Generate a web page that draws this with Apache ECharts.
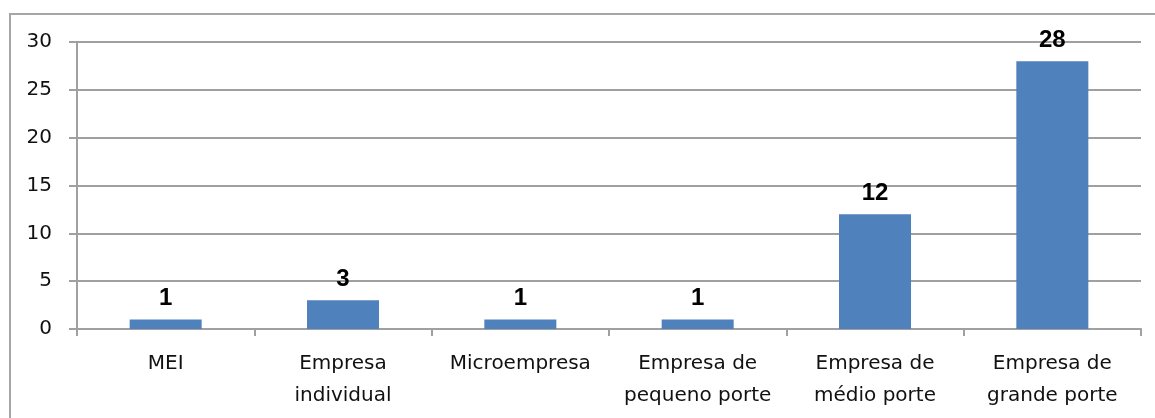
<!DOCTYPE html>
<html>
<head>
<meta charset="utf-8">
<script src="https://cdn.jsdelivr.net/npm/echarts@6/dist/echarts.min.js"></script>
<style>
  html, body { margin: 0; padding: 0; background: #fff; }
  #chart { width: 1155px; height: 418px; }
</style>
</head>
<body>
<div id="chart"></div>
<script>
// Companies by size
const categories = [
  'MEI',
  'Empresa\nindividual',
  'Microempresa',
  'Empresa de\npequeno porte',
  'Empresa de\nmédio porte',
  'Empresa de\ngrande porte'
];
const counts = [1, 3, 1, 1, 12, 28];
const yTicks = [0, 5, 10, 15, 20, 25, 30];

const chart = echarts.init(document.getElementById('chart'), null, { renderer: 'canvas' });

chart.setOption({
  animation: false,
  backgroundColor: '#ffffff',
  graphic: [{
    type: 'polyline',
    shape: { points: [[10, 420], [10, 14], [1160, 14]] },
    style: { stroke: '#a6a6a6', lineWidth: 2, fill: null },
    silent: true
  }],
  grid: { left: 77, right: 14, top: 42, bottom: 89, containLabel: false },
  xAxis: {
    type: 'category',
    data: categories,
    axisLine: { show: true, lineStyle: { color: '#a0a0a0', width: 2 } },
    axisTick: { show: true, alignWithLabel: false, length: 7, lineStyle: { color: '#a0a0a0', width: 2 } },
    axisLabel: {
      interval: 0,
      margin: 19,
      fontFamily: 'DejaVu Sans',
      fontSize: 20,
      lineHeight: 32,
      color: '#111'
    }
  },
  yAxis: {
    type: 'value',
    min: yTicks[0],
    max: yTicks[yTicks.length - 1],
    interval: 5,
    axisLine: { show: true, lineStyle: { color: '#a0a0a0', width: 2 } },
    axisTick: { show: true, length: 8, lineStyle: { color: '#a0a0a0', width: 2 } },
    splitLine: { show: true, lineStyle: { color: '#a0a0a0', width: 2 } },
    axisLabel: {
      margin: 25,
      fontFamily: 'DejaVu Sans',
      fontSize: 20,
      color: '#111'
    }
  },
  series: [{
    type: 'bar',
    data: counts,
    barWidth: '40.6%',
    itemStyle: { color: '#4f81bd' },
    label: {
      show: true,
      position: 'top',
      distance: 9,
      fontFamily: 'Liberation Sans',
      fontWeight: 'bold',
      fontSize: 24,
      color: '#000'
    }
  }]
});
</script>
</body>
</html>
